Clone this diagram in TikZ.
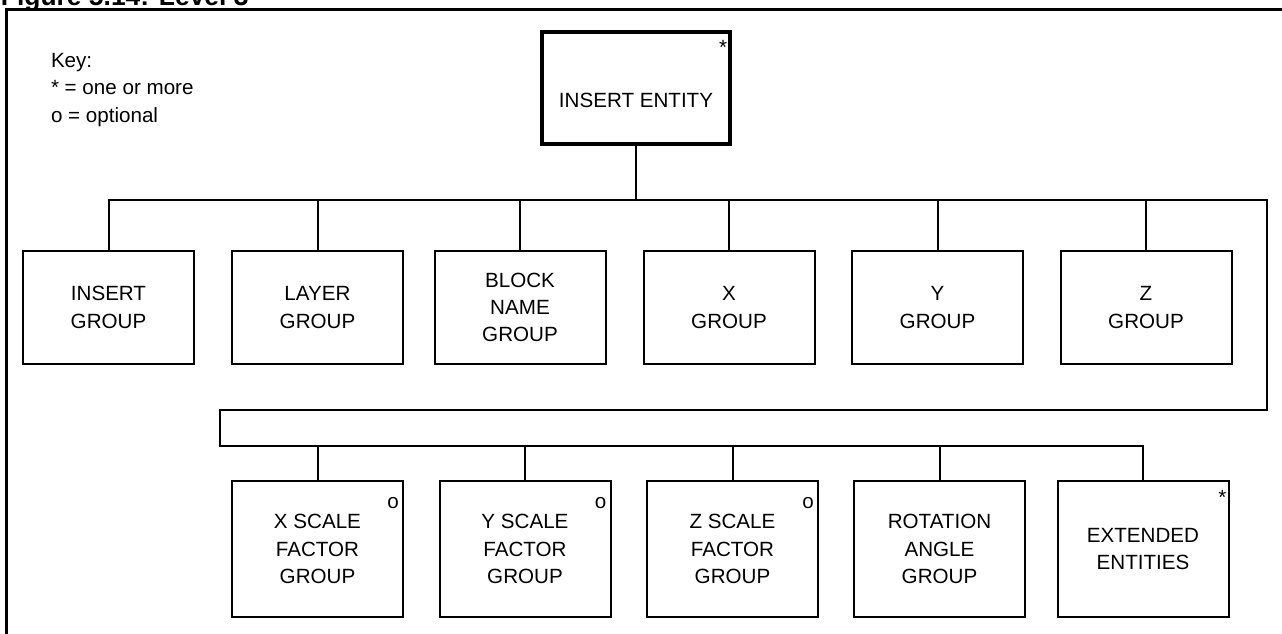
\documentclass[tikz,border=0pt]{standalone}
\usepackage{fontspec}
\setmainfont{Liberation Sans}
\usetikzlibrary{positioning}

\newcommand\boxfont{\fontsize{10.3}{13.6}\selectfont}

\begin{document}
\begin{tikzpicture}[x=0.5pt,y=-0.5pt,line width=1pt,
                    grp/.style={draw,line width=1pt,align=center,inner sep=0pt,
                                minimum width=85.5pt,minimum height=56.5pt,font=\boxfont},
                    opt/.style={grp,minimum height=68pt},
                    ent/.style={grp,line width=2.2pt,minimum width=94pt,minimum height=56pt,
                                text height=19pt,text depth=0pt},
                    flag/.style={anchor=base,inner sep=0pt,font=\boxfont}]

  \clip (0,0) rectangle (1282,633);
  \draw[line width=1.5pt] (6,9) rectangle (1300,650);

  \node[anchor=base west,inner sep=0pt,font=\bfseries\fontsize{13.2}{14}\selectfont]
       (title) at (0,5) {Figure 5.14: Level 3};
  \node[anchor=base west,align=left,inner sep=0pt,font=\boxfont]
       (key) at (50,122) {Key:\\* = one or more\\o = optional};

  % top
  \node[ent] (entity) at (636,88) {INSERT ENTITY};
  \node[flag] at ([shift={(-9,25)}]entity.north east) {*};

  % first row
  \node[grp] (insert) at (108.5,307.5) {INSERT\\GROUP};
  \node[grp] (layer)  at (317.5,307.5) {LAYER\\GROUP};
  \node[grp] (block)  at (520,307.5)   {BLOCK\\NAME\\GROUP};
  \node[grp] (xgrp)   at (729,307.5)   {X\\GROUP};
  \node[grp] (ygrp)   at (937.5,307.5) {Y\\GROUP};
  \node[grp] (zgrp)   at (1146,307.5)  {Z\\GROUP};

  % second row
  \node[opt] (xscale) at (317.5,549)   {X SCALE\\FACTOR\\GROUP};
  \node[opt] (yscale) at (525,549)     {Y SCALE\\FACTOR\\GROUP};
  \node[opt] (zscale) at (732.5,549)   {Z SCALE\\FACTOR\\GROUP};
  \node[opt] (rot)    at (939.5,549)   {ROTATION\\ANGLE\\GROUP};
  \node[opt] (extent) at (1143,549)    {EXTENDED\\ENTITIES};

  \foreach \n in {xscale,yscale,zscale}
    \node[flag] at ([shift={(-11,28)}]\n.north east) {o};
  \node[flag] at ([shift={(-7,24)}]extent.north east) {*};

  % bus lines
  \coordinate (busR)  at (1267,200);
  \coordinate (loopR) at (1267,410);
  \coordinate (loopL) at (220,410);
  \coordinate (busL2) at (220,446);

  \draw (insert.north) |- (busR) -- (loopR) -- (loopL) -- (busL2) -| (extent.north);
  \draw (entity.south) -- (entity.south |- busR);
  \foreach \n in {layer,block,xgrp,ygrp,zgrp}
    \draw (\n.north) -- (\n.north |- busR);
  \foreach \n in {xscale,yscale,zscale,rot}
    \draw (\n.north) -- (\n.north |- busL2);
\end{tikzpicture}
\end{document}
